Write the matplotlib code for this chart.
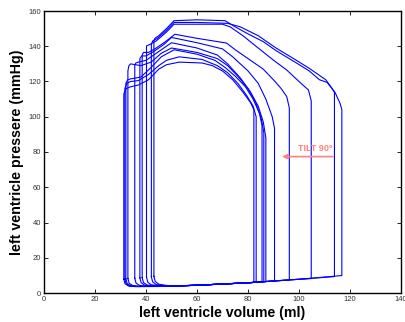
import numpy as np
import matplotlib
matplotlib.use("Agg")
import matplotlib.pyplot as plt

plt.rcParams['font.family'] = ['Liberation Sans', 'DejaVu Sans']

# pressure-volume loops, one per beat during tilt (volume ml, pressure mmHg)
# each loop: filling along the bottom, isovolumic contraction at EDV,
# ejection across the top, isovolumic relaxation at ESV
loop_vol = [
    [43.1, 43.6, 45, 48, 52, 60, 80, 100, 116.8, 116.8, 116.1, 114.1, 111, 108, 104, 99, 91, 86, 80, 75, 71, 60, 51, 48, 45, 43.5, 43.1, 43.1],
    [42.1, 42.6, 44, 47, 52, 60, 80, 100, 113.9, 113.9, 113, 110.5, 104, 99, 91, 84, 77, 72, 60, 51, 48, 44.5, 42.6, 42.1, 42.1],
    [40.2, 40.7, 42, 45, 50, 60, 80, 100, 104.8, 104.8, 103.7, 100, 95.2, 89.9, 84, 78, 73, 70, 51, 48, 44, 41.5, 40.2, 40.2],
    [38.5, 39, 40.5, 43.5, 50, 60, 80, 96.2, 96.2, 95.2, 93, 90.6, 86, 80, 75, 71.6, 60, 51.3, 48, 44, 41, 39, 38.5, 38.5],
    [37.6, 38.1, 39.5, 42.5, 50, 60, 80, 90.4, 90.4, 89.5, 87, 84, 80, 74, 70, 60, 50, 47, 43, 40, 38.3, 37.6, 37.6],
    [35.6, 36.1, 37.5, 40.5, 48, 60, 80, 87.0, 87.0, 86, 84, 81, 77, 72, 68, 60, 50, 47, 43, 40, 37, 36, 35.6, 35.6],
    [32.9, 33.4, 34.8, 38, 46, 60, 80, 86.2, 86.2, 85.2, 83, 80, 76, 72, 68, 60, 50, 46, 42, 38, 36, 34, 33.3, 32.9, 32.9],
    [32.1, 32.6, 34, 37, 45, 60, 80, 85.5, 85.5, 84.5, 82, 79, 75, 71, 67, 60, 51, 46, 42, 38, 34, 32.8, 32.1, 32.1],
    [31.7, 32.2, 33.6, 36.5, 45, 60, 80, 83.2, 83.2, 82, 79.5, 76, 72, 68, 62, 53, 48, 45, 41, 37, 34, 32.5, 31.7, 31.7],
    [31.3, 31.8, 33.2, 36, 45, 60, 80, 82.3, 82.3, 81, 78, 74, 70, 66, 62, 53, 48, 45, 41, 37, 34, 32.2, 31.3, 31.3],
]
loop_pres = [
    [9.5, 6.6, 5.0, 4.3, 4.0, 4.4, 5.8, 7.8, 9.9, 104, 107.6, 113.9, 119.5, 121, 126, 130.5, 137.5, 142.6, 147, 151, 154.5, 155, 154.5, 150, 146, 144.5, 143, 9.5],
    [9.2, 6.3, 4.8, 4.2, 4.0, 4.4, 5.8, 7.8, 9.3, 113.9, 116, 121, 127.5, 132, 139, 146, 151, 153, 153.5, 153.5, 149, 144.5, 143, 141, 9.2],
    [9.0, 6.1, 4.7, 4.1, 3.9, 4.4, 5.8, 7.8, 8.2, 109, 115.2, 120, 126.5, 132.2, 139, 146, 151, 152.5, 152.5, 148, 143, 141, 140.2, 9.0],
    [8.8, 5.9, 4.5, 4.0, 3.9, 4.4, 5.8, 7.4, 105, 111.4, 116, 120, 127, 133, 138, 141.8, 144.5, 146.8, 143, 139, 136.5, 136.5, 135, 8.8],
    [8.6, 5.8, 4.4, 3.9, 3.9, 4.4, 5.8, 6.9, 93.5, 100, 110, 119, 126, 134, 138.5, 142, 145, 141, 137, 134.5, 134.5, 133, 8.6],
    [8.4, 5.6, 4.3, 3.8, 3.8, 4.4, 5.8, 6.5, 88, 97, 106, 114, 122, 130, 135, 139, 142, 139, 135, 132, 131, 130.5, 129, 8.4],
    [8.2, 5.5, 4.2, 3.8, 3.8, 4.4, 5.8, 6.4, 91, 99, 108, 116, 123, 129, 133, 136.5, 139, 136, 131, 129, 129.5, 130, 129, 126, 8.2],
    [8.0, 5.4, 4.1, 3.7, 3.8, 4.4, 5.8, 6.3, 95, 102, 110, 117, 123, 128, 132, 135.5, 138, 134, 128, 122.5, 121.5, 121, 119, 8.0],
    [7.9, 5.3, 4.0, 3.7, 3.8, 4.4, 5.8, 6.1, 100, 106, 112, 119, 125, 129, 132.5, 134, 132, 129, 124, 120.5, 120, 119, 116, 7.9],
    [7.8, 5.2, 3.9, 3.6, 3.7, 4.4, 5.8, 6.0, 104, 108, 114, 121, 126, 129, 130.5, 131, 129.5, 127, 121, 118, 117, 116, 113, 7.8],
]

fig = plt.figure(figsize=(4.06, 3.22), dpi=100)
ax = fig.add_axes([44 / 406, 29 / 322, 357 / 406, 282 / 322])

for v, p in zip(loop_vol, loop_pres):
    ax.plot(v, p, color='#0000ff', linewidth=0.8)

# tilt annotation
ax.annotate('', xy=(93.4, 77.4), xytext=(113.3, 77.4),
            arrowprops=dict(arrowstyle='-|>', color='#ff8080', lw=1.2,
                            mutation_scale=7, shrinkA=0, shrinkB=0))
ax.text(113.3, 79.3, 'TILT 90°', color='#ff8080', fontsize=6.5,
        fontweight='bold', ha='right', va='bottom')

ax.set_xlim(0, 140)
ax.set_ylim(0, 160)
ax.set_xticks(np.arange(0, 141, 20))
ax.set_yticks(np.arange(0, 161, 20))
ax.tick_params(direction='in', top=True, right=True, length=3, width=0.6,
               labelsize=5.5, labelcolor='#333333', pad=2)
for s in ax.spines.values():
    s.set_linewidth(1.0)

ax.set_xlabel('left ventricle volume (ml)', fontsize=10.2, fontweight='bold', labelpad=2)
ax.set_ylabel('left ventricle pressere (mmHg)', fontsize=10.3, fontweight='bold', labelpad=3)

fig.savefig('out.png', dpi=100)
